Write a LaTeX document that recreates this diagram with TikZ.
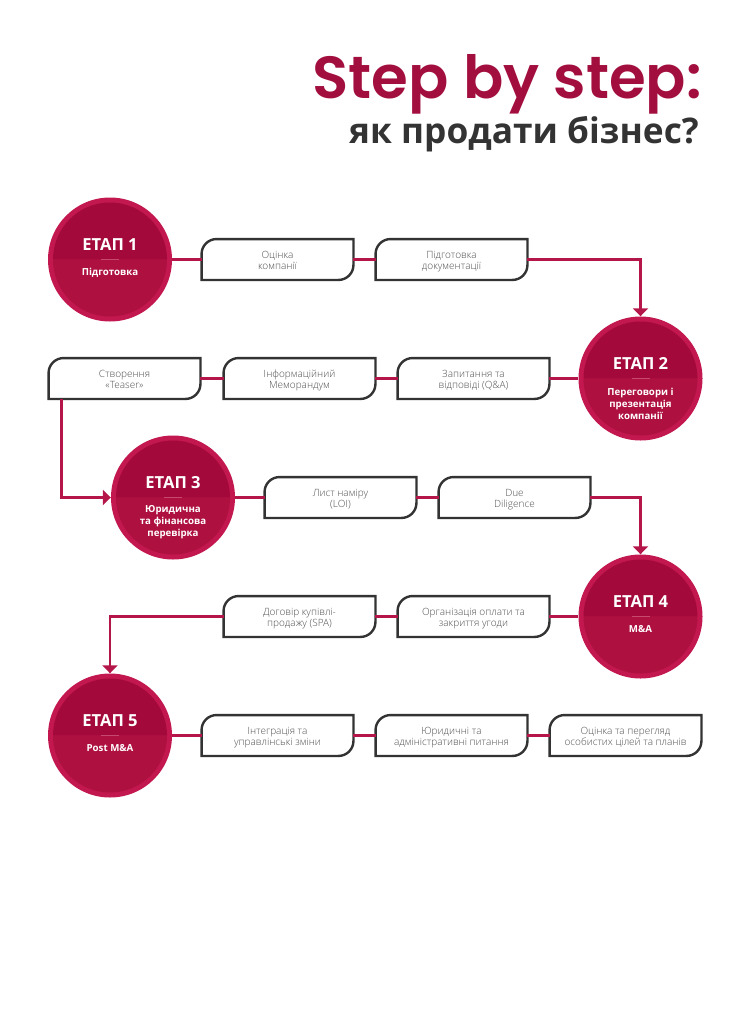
\documentclass[tikz,border=0pt]{standalone}
\usepackage{fontspec}
\setmainfont{Open Sans}
\newfontfamily\titlefont{Poppins SemiBold}
\newfontfamily\lightfont{Open Sans Light}
\usetikzlibrary{arrows.meta}
\definecolor{ring}{HTML}{C2174F}
\definecolor{topc}{HTML}{A30A3B}
\definecolor{botc}{HTML}{AE1040}
\definecolor{dashc}{HTML}{C8496F}
\definecolor{linkc}{HTML}{B5164A}
\definecolor{titlec}{HTML}{A20F3F}
\definecolor{subc}{HTML}{333333}
\definecolor{boxc}{HTML}{333333}
\definecolor{boxt}{HTML}{4F4F4F}
\tikzset{
  x=1pt,y=-1pt,
  stagecirc/.style={circle,fill=ring,draw=none,minimum size=124pt,inner sep=0pt},
  stagetop/.style={fill=topc},
  stagebot/.style={fill=botc},
  stagedash/.style={draw=dashc,line width=1.8pt},
  stagehead/.style={text=white,font=\fontsize{16.6}{18}\bfseries\selectfont,inner sep=0pt},
  stagesub/.style={text=white,align=center,font=\fontsize{9.7}{12}\bfseries\selectfont,inner sep=0pt},
  stepnode/.style={minimum width=151.5pt,minimum height=40.5pt,inner sep=0pt,align=center,text=boxt,font=\lightfont\fontsize{10}{11.5}\selectfont},
  stepline/.style={draw=boxc,line width=2.4pt,line join=miter},
  link/.style={draw=linkc,line width=2.4pt},
  linkarrow/.style={link,-{Triangle[width=15pt,length=8pt]}},
}
\newcommand{\stagemark}[6]{% name,x,y,N,suboffset,sub
  \node[stagecirc] (#1) at (#2,#3) {};
  \fill[stagetop] (#2-57,#3) arc[start angle=180,end angle=0,radius=57pt] -- cycle;
  \fill[stagebot] (#2-57,#3) arc[start angle=180,end angle=360,radius=57pt] -- cycle;
  \draw[stagedash] (#2-9,#3) -- (#2+9,#3);
  \node[stagehead] (#1h) at (#2,#3-15.3) {ЕТАП #4};
  \node[stagesub] (#1s) at (#2,#3+#5) {#6};
}
\newcommand{\stepmark}[4]{% name,x,y,text
  \node[stepnode] (#1) at (#2,#3) {\raisebox{-2pt}[\height][\depth]{\begin{tabular}{@{}c@{}}#4\end{tabular}}};
  \draw[stepline] (#1.south west) -- ([yshift=-15pt]#1.north west)
    arc[start angle=180,end angle=90,radius=15pt] -- (#1.north east)
    -- ([yshift=15pt]#1.south east)
    arc[start angle=0,end angle=-90,radius=15pt] -- cycle;
}
\renewcommand{\arraystretch}{0.95}
\begin{document}
\begin{tikzpicture}
\useasboundingbox (0,0) rectangle (750,1012);
\node[anchor=base east,inner sep=0pt,text=titlec,font=\titlefont\fontsize{59.5}{62}\selectfont] (title) at (702,98) {Step by step:};
\node[anchor=base east,inner sep=0pt,text=subc,font=\fontsize{35.3}{38}\bfseries\selectfont] (subtitle) at (699,143) {як продати бізнес?};

\stagemark{c1}{110}{259.5}{1}{13}{Підготовка}
\stagemark{c2}{640.5}{378.5}{2}{25}{Переговори і\\презентація\\компанії}
\stagemark{c3}{173}{497.5}{3}{25}{Юридична\\та фінансова\\перевірка}
\stagemark{c4}{640.5}{616.5}{4}{13}{M\&A}
\stagemark{c5}{110}{735.5}{5}{13}{Post M\&A}

\stepmark{a1}{277.5}{259.5}{Оцінка\\компанії}
\stepmark{a2}{451.5}{259.5}{Підготовка\\документації}
\stepmark{b3}{473.5}{378.5}{Запитання та\\відповіді (Q\&A)}
\stepmark{b2}{299.5}{378.5}{Інформаційний\\Меморандум}
\stepmark{b1}{124.5}{378.5}{Створення\\«Teaser»}
\stepmark{d1}{340.5}{497.5}{Лист наміру\\(LOI)}
\stepmark{d2}{514.5}{497.5}{Due\\Diligence}
\stepmark{e2}{473.5}{616.5}{Організація оплати та\\закриття угоди}
\stepmark{e1}{299.5}{616.5}{Договір купівлі-\\продажу (SPA)}
\stepmark{f1}{277.5}{735.5}{Інтеграція та\\управлінські зміни}
\stepmark{f2}{451.5}{735.5}{Юридичні та\\адміністративні питання}
\stepmark{f3}{625.5}{735.5}{Оцінка та перегляд\\особистих цілей та планів}

\draw[link] (c1.east) -- (a1.west);
\draw[link] (a1.east) -- (a2.west);
\draw[linkarrow] (a2.east) -| (c2.north);
\draw[link] (c2.west) -- (b3.east);
\draw[link] (b3.west) -- (b2.east);
\draw[link] (b2.west) -- (b1.east);
\draw[linkarrow] ([xshift=13pt]b1.south west) |- (c3.west);
\draw[link] (c3.east) -- (d1.west);
\draw[link] (d1.east) -- (d2.west);
\draw[linkarrow] (d2.east) -| (c4.north);
\draw[link] (c4.west) -- (e2.east);
\draw[link] (e2.west) -- (e1.east);
\draw[linkarrow] (e1.west) -| (c5.north);
\draw[link] (c5.east) -- (f1.west);
\draw[link] (f1.east) -- (f2.west);
\draw[link] (f2.east) -- (f3.west);
\end{tikzpicture}
\end{document}
